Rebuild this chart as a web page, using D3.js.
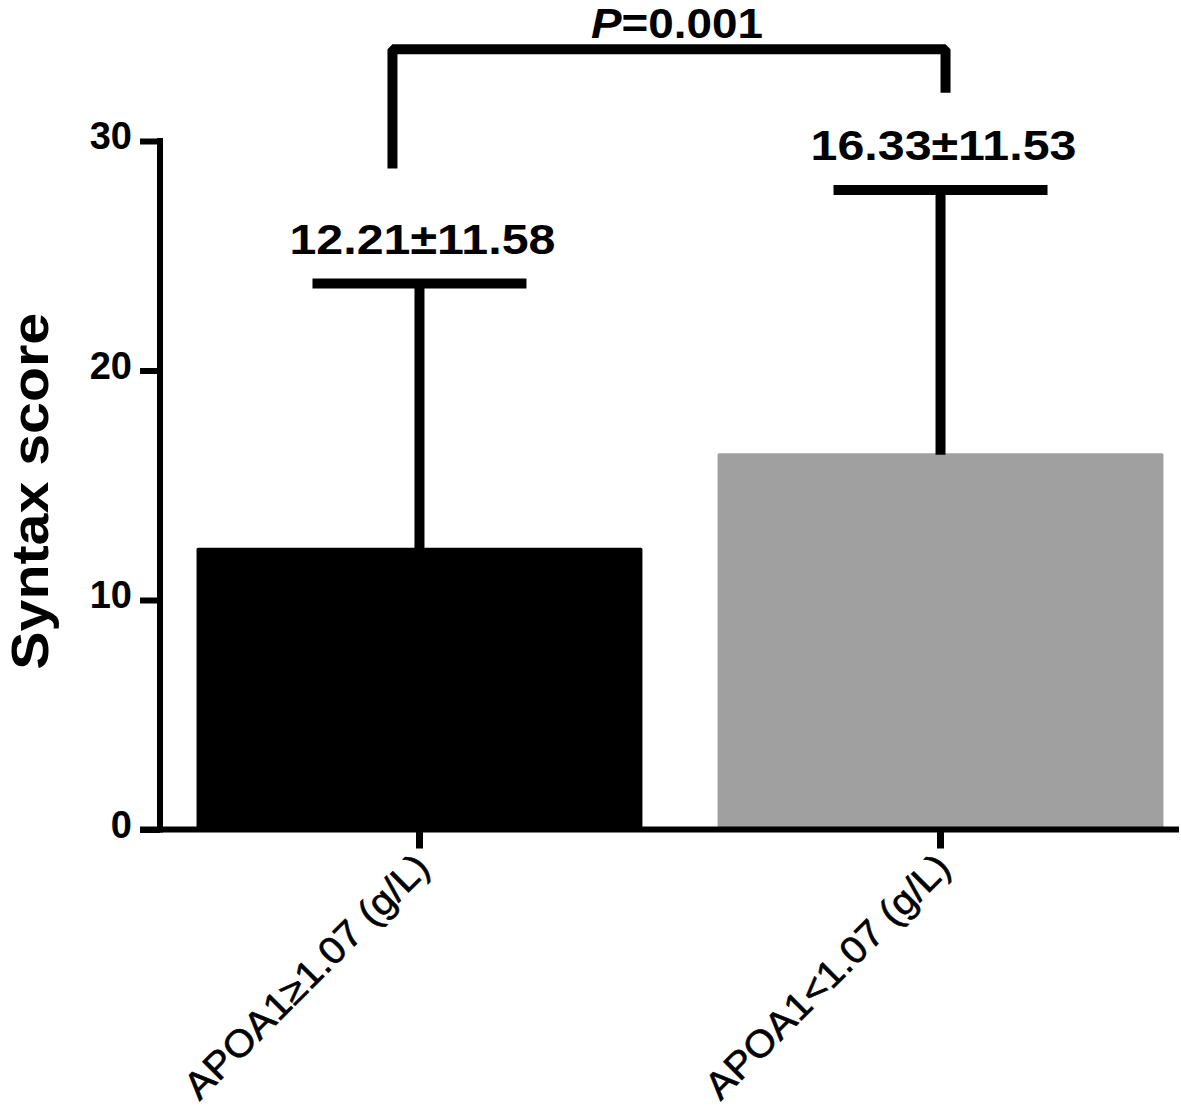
<!DOCTYPE html>
<html>
<head>
<meta charset="utf-8">
<script src="https://cdn.jsdelivr.net/npm/d3@7"></script>
<style>
  html, body { margin: 0; padding: 0; background: #fff; }
  text { font-family: Arial, "Liberation Sans", sans-serif; fill: #000; }
</style>
</head>
<body>
<div id="app"></div>
<script>
// data
const groups = ["APOA1\u22651.07 (g/L)", "APOA1<1.07 (g/L)"];
const means = [12.21, 16.33];
const sds = [11.58, 11.53];
const barColors = ["#000000", "#a0a0a0"];
const yTicks = [0, 10, 20, 30];
const pValue = "0.001";
const bracketLegEnds = [28.8, 32.1];
const bracketTop = 34;

const width = 1181;
const height = 1107;

const svg = d3.select("#app")
  .append("svg")
  .attr("width", width)
  .attr("height", height);

const x = d3.scaleBand()
  .domain(groups)
  .range([160, 1200])
  .paddingInner(0.15)
  .paddingOuter(0.073);

const y = d3.scaleLinear()
  .domain([0, 30])
  .range([829.5, 141]);

const rows = groups.map((g, i) => ({ g, mean: means[i], sd: sds[i], color: barColors[i] }));
const cx = (g) => x(g) + x.bandwidth() / 2;

// bars
svg.append("g")
  .selectAll("rect")
  .data(rows)
  .join("rect")
  .attr("x", (d) => x(d.g))
  .attr("y", (d) => y(d.mean))
  .attr("width", x.bandwidth())
  .attr("height", (d) => y(0) - y(d.mean))
  .attr("fill", (d) => d.color)
  .attr("stroke", (d) => d.color)
  .attr("stroke-width", 3)
  .attr("stroke-linejoin", "round");

// error bars (upper only)
const err = svg.append("g").attr("stroke", "#000").attr("stroke-width", 10);
err.selectAll("line.stem")
  .data(rows)
  .join("line")
  .attr("class", "stem")
  .attr("x1", (d) => cx(d.g))
  .attr("x2", (d) => cx(d.g))
  .attr("y1", (d) => y(d.mean))
  .attr("y2", (d) => y(d.mean + d.sd));
err.selectAll("line.cap")
  .data(rows)
  .join("line")
  .attr("class", "cap")
  .attr("x1", (d) => cx(d.g) - 107)
  .attr("x2", (d) => cx(d.g) + 107)
  .attr("y1", (d) => y(d.mean + d.sd))
  .attr("y2", (d) => y(d.mean + d.sd));

// value labels
svg.append("g")
  .selectAll("text")
  .data(rows)
  .join("text")
  .attr("x", (d) => cx(d.g) + 3)
  .attr("y", (d) => y(d.mean + d.sd) - 30)
  .attr("text-anchor", "middle")
  .attr("font-size", 42)
  .attr("font-weight", "bold")
  .attr("textLength", 266)
  .attr("lengthAdjust", "spacingAndGlyphs")
  .text((d) => `${d.mean.toFixed(2)}\u00b1${d.sd.toFixed(2)}`);

// y axis
const yAxis = d3.axisLeft(y)
  .tickValues(yTicks)
  .tickSize(20)
  .tickPadding(8)
  .tickSizeOuter(0);
const yg = svg.append("g")
  .attr("transform", "translate(160,0)")
  .call(yAxis);
yg.select(".domain").remove();
yg.selectAll(".tick line").attr("stroke", "#000").attr("stroke-width", 6);
yg.selectAll(".tick text")
  .attr("font-size", 38)
  .attr("font-weight", "bold")
  .attr("font-family", "Arial, 'Liberation Sans', sans-serif")
  .attr("dy", "0.2em");
svg.append("line")
  .attr("x1", 160).attr("x2", 160)
  .attr("y1", y(30) - 3).attr("y2", y(0) + 3)
  .attr("stroke", "#000").attr("stroke-width", 6);

// x axis
svg.append("line")
  .attr("x1", 140).attr("x2", 1179)
  .attr("y1", y(0)).attr("y2", y(0))
  .attr("stroke", "#000").attr("stroke-width", 6);
const xg = svg.append("g");
xg.selectAll("line")
  .data(groups)
  .join("line")
  .attr("x1", (d) => cx(d))
  .attr("x2", (d) => cx(d))
  .attr("y1", y(0))
  .attr("y2", y(0) + 19)
  .attr("stroke", "#000")
  .attr("stroke-width", 7);
xg.selectAll("text")
  .data(groups)
  .join("text")
  .attr("transform", (d) => `translate(${cx(d) + 12},${y(0) + 40}) rotate(-45)`)
  .attr("text-anchor", "end")
  .attr("font-size", 38)
  .attr("stroke", "#000")
  .attr("stroke-width", 0.6)
  .attr("textLength", 328)
  .attr("lengthAdjust", "spacingAndGlyphs")
  .text((d) => d);

// y axis title
svg.append("text")
  .attr("transform", `translate(48,${(y(0) + y(30)) / 2 + 6}) rotate(-90)`)
  .attr("text-anchor", "middle")
  .attr("font-size", 52)
  .attr("font-weight", "bold")
  .attr("textLength", 357)
  .attr("lengthAdjust", "spacingAndGlyphs")
  .text("Syntax score");

// significance bracket
const bx0 = cx(groups[0]) - 27;
const bx1 = cx(groups[1]) + 5;
svg.append("path")
  .attr("d", d3.line()([
    [bx0, y(bracketLegEnds[0])],
    [bx0, y(bracketTop)],
    [bx1, y(bracketTop)],
    [bx1, y(bracketLegEnds[1])]
  ]))
  .attr("fill", "none")
  .attr("stroke", "#000")
  .attr("stroke-width", 10)
  .attr("stroke-linejoin", "bevel");

const pt = svg.append("text")
  .attr("x", (bx0 + bx1) / 2 + 8)
  .attr("y", 38)
  .attr("text-anchor", "middle")
  .attr("font-size", 43)
  .attr("font-weight", "bold")
  .attr("textLength", 172)
  .attr("lengthAdjust", "spacingAndGlyphs");
pt.append("tspan").attr("font-style", "italic").text("P");
pt.append("tspan").text("=" + pValue);
</script>
</body>
</html>
